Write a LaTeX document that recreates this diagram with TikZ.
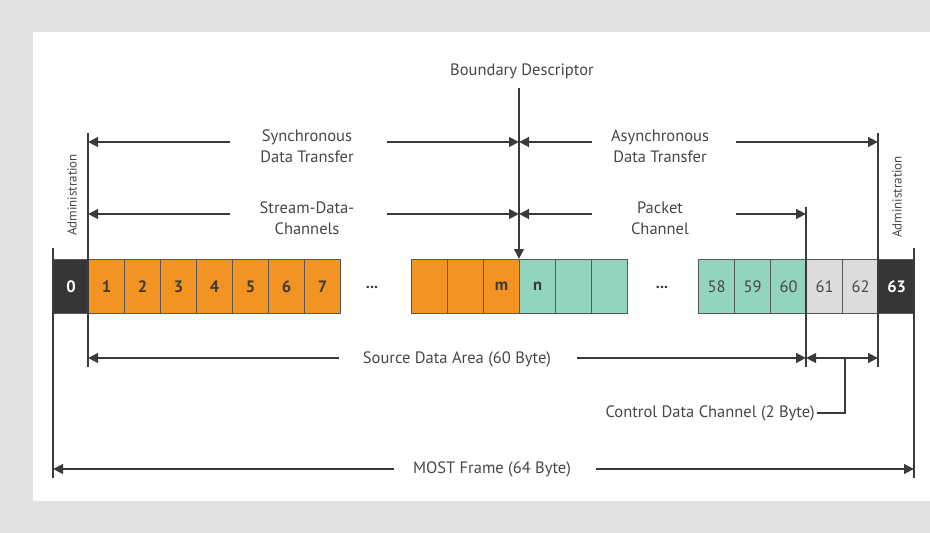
\documentclass[tikz,border=0pt]{standalone}
\usepackage{fontspec}
\setmainfont{PT Sans}
\usetikzlibrary{arrows.meta,calc}

\definecolor{bggray}{HTML}{E1E2E4}
\definecolor{cellorange}{HTML}{F39322}
\definecolor{cellteal}{HTML}{92D4BF}
\definecolor{cellgray}{HTML}{DCDCDC}
\definecolor{celldark}{HTML}{363636}
\definecolor{ink}{HTML}{3A3A3A}
\definecolor{txt}{HTML}{474747}

\begin{document}
\begin{tikzpicture}[x=1pt,y=-1pt,
  cell/.style={draw=ink!85, line width=1.2pt, minimum width=36pt,
    minimum height=54pt, inner sep=0pt, anchor=north west,
    font=\fontsize{16.5}{16.5}\selectfont\bfseries, text=ink},
  orangecell/.style={cell, fill=cellorange},
  tealcell/.style={cell, fill=cellteal},
  graycell/.style={cell, fill=cellgray},
  darkcell/.style={cell, fill=celldark, text=white},
  plainnum/.style={font=\fontsize{16.5}{16.5}\selectfont, text=txt},
  label/.style={font=\fontsize{16.5}{21}\selectfont, text=txt, align=center, inner sep=0pt},
  sidelabel/.style={font=\fontsize{13}{13}\selectfont, text=txt, rotate=90, inner sep=0pt},
  dots/.style={font=\fontsize{16}{16}\selectfont\bfseries, text=ink},
  arr/.style={-{Triangle[length=10pt,width=9.5pt]}, line width=2.7pt, draw=ink},
  dblarr/.style={{Triangle[length=10pt,width=9.5pt]}-{Triangle[length=10pt,width=9.5pt]}, line width=2.7pt, draw=ink},
  extline/.style={line width=1.9pt, draw=ink},
]
% page background and white panel
\useasboundingbox (0,0) rectangle (930,533);
\fill[bggray] (0,0) rectangle (930,533);
\fill[white] (33,32) rectangle (930,501);

% frame cells
\node[darkcell, minimum width=35pt] (c0) at (53,259) {0};
\foreach \i in {1,...,7}{
  \node[orangecell] (c\i) at ({88+36*(\i-1)},259) {\i};
}
\node[dots] (dotsA) at (372,287) {...};
\node[orangecell] (ca) at (411,259) {};
\node[orangecell] (cb) at (447,259) {};
\node[orangecell] (cm) at (483,259) {m};
\node[tealcell] (cn) at (519,259) {n};
\node[tealcell] (cp) at (555,259) {};
\node[tealcell] (cq) at (591,259) {};
\node[dots] (dotsB) at (662,287) {...};
\node[tealcell, plainnum] (c58) at (698,259) {58};
\node[tealcell, plainnum] (c59) at (734,259) {59};
\node[tealcell, plainnum] (c60) at (770,259) {60};
\node[graycell, plainnum] (c61) at (806,259) {61};
\node[graycell, plainnum] (c62) at (842,259) {62};
\node[darkcell] (c63) at (878,259) {63};

% extension lines
\coordinate (e0top) at (53,248);   \coordinate (e0bot) at (53,478);
\coordinate (e1top) at (88,133);   \coordinate (e1bot) at (88,367);
\coordinate (e60top) at (806,207); \coordinate (e60bot) at (806,367);
\coordinate (e62top) at (878,133); \coordinate (e62bot) at (878,367);
\coordinate (e63top) at (914,248); \coordinate (e63bot) at (914,478);
\draw[extline] (e0top) -- (e0bot);
\draw[extline] (e1top) -- (e1bot);
\draw[extline] (e60top) -- (e60bot);
\draw[extline] (e62top) -- (e62bot);
\draw[extline] (e63top) -- (e63bot);

% boundary descriptor
\node[label] (bd) at (522,71) {Boundary Descriptor};
\coordinate (bdtop) at (519,88);
\draw[extline, -{Triangle[length=10pt,width=9.5pt]}] (bdtop) -- (cn.north west);

% administration labels
\node[sidelabel] (admL) at (72,195) {Administration};
\node[sidelabel] (admR) at (897,197) {Administration};

% synchronous / asynchronous transfer
\node[label] (sync) at (307,146) {Synchronous\\Data Transfer};
\node[label] (async) at (660,146) {Asynchronous\\Data Transfer};
\coordinate (syncL) at (230,142);  \coordinate (syncR) at (387,142);
\coordinate (asyncL) at (592,142); \coordinate (asyncR) at (736,142);
\draw[arr] (syncL) -- (syncL -| e1top);
\draw[arr] (syncR) -- (syncR -| bdtop);
\draw[arr] (asyncL) -- (asyncL -| bdtop);
\draw[arr] (asyncR) -- (asyncR -| e62top);

% stream / packet channels
\node[label] (stream) at (307,218) {Stream-Data-\\Channels};
\node[label] (packet) at (660,218) {Packet\\Channel};
\coordinate (strL) at (230,214);  \coordinate (strR) at (387,214);
\coordinate (pktL) at (592,214);  \coordinate (pktR) at (736,214);
\draw[arr] (strL) -- (strL -| e1top);
\draw[arr] (strR) -- (strR -| bdtop);
\draw[arr] (pktL) -- (pktL -| bdtop);
\draw[arr] (pktR) -- (pktR -| e60top);

% source data area
\node[label] (src) at (457,359) {Source Data Area (60 Byte)};
\coordinate (srcL) at (339,358); \coordinate (srcR) at (577,358);
\draw[arr] (srcL) -- (srcL -| e1top);
\draw[arr] (srcR) -- (srcR -| e60top);

% control data channel
\coordinate (ctlA) at (806,358); \coordinate (ctlB) at (878,358);
\coordinate (ctlmid) at (845,358);
\draw[dblarr] (ctlA) -- (ctlB);
\node[label, anchor=east] (ctl) at (815,413) {Control Data Channel (2 Byte)};
\draw[extline] (ctlmid) |- ([xshift=2pt]ctl.east);

% whole frame
\node[label] (most) at (492,469) {MOST Frame (64 Byte)};
\coordinate (mostL) at (394,469); \coordinate (mostR) at (596,469);
\draw[arr] (mostL) -- (mostL -| e0top);
\draw[arr] (mostR) -- (mostR -| e63top);
\end{tikzpicture}
\end{document}
